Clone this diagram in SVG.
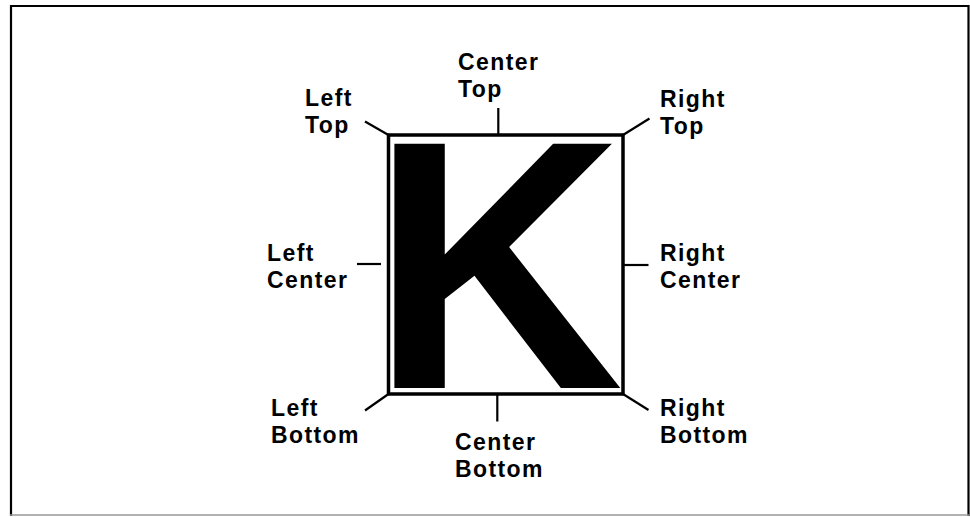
<svg xmlns="http://www.w3.org/2000/svg" width="970" height="517" viewBox="0 0 970 517">
<style>
.lbl{font-family:"Liberation Sans",Arial,sans-serif;font-weight:bold;font-size:23px;letter-spacing:1.4px;fill:#000}
.tick{stroke:#000;stroke-width:2.2;fill:none;stroke-linecap:butt}
.frame{stroke:#000;stroke-width:2.2;fill:none}
</style>
<rect width="970" height="517" fill="#fff"/>
<g id="frame">
<line class="frame" x1="10" y1="6" x2="969" y2="6"/>
<line class="frame" x1="11" y1="5" x2="11" y2="516"/>
<line class="frame" x1="968.5" y1="5" x2="968.5" y2="516"/>
<line x1="10" y1="515" x2="969" y2="515" stroke="#999" stroke-width="1.5"/>
</g>
<g id="box">
<rect x="388.5" y="135" width="234.5" height="259" fill="none" stroke="#000" stroke-width="3.5"/>
<text transform="translate(371 388) scale(0.985 1)" x="0" y="0" style="font-family:'Liberation Sans',Arial,sans-serif;font-weight:bold;font-size:355px" fill="#000">K</text>
</g>
<g id="connectors">
<line class="tick" x1="365" y1="121.5" x2="388.5" y2="135"/>
<line class="tick" x1="498.3" y1="108" x2="498.3" y2="135"/>
<line class="tick" x1="649.5" y1="118.5" x2="623" y2="135"/>
<line class="tick" x1="357" y1="264" x2="381" y2="264"/>
<line class="tick" x1="623" y1="265" x2="648.5" y2="265"/>
<line class="tick" x1="365" y1="410.5" x2="388.5" y2="394"/>
<line class="tick" x1="497.3" y1="394" x2="497.3" y2="421.5"/>
<line class="tick" x1="623" y1="394" x2="648.5" y2="410"/>
</g>
<g id="left-top"><text class="lbl" x="305" y="106"><tspan x="305" y="106">Left</tspan><tspan x="305" y="133">Top</tspan></text></g>
<g id="center-top"><text class="lbl" x="458" y="70"><tspan x="458" y="70">Center</tspan><tspan x="458" y="97">Top</tspan></text></g>
<g id="right-top"><text class="lbl" x="660" y="107"><tspan x="660" y="107">Right</tspan><tspan x="660" y="134">Top</tspan></text></g>
<g id="left-center"><text class="lbl" x="267" y="261"><tspan x="267" y="261">Left</tspan><tspan x="267" y="288">Center</tspan></text></g>
<g id="right-center"><text class="lbl" x="660" y="261"><tspan x="660" y="261">Right</tspan><tspan x="660" y="288">Center</tspan></text></g>
<g id="left-bottom"><text class="lbl" x="271" y="416"><tspan x="271" y="416">Left</tspan><tspan x="271" y="443">Bottom</tspan></text></g>
<g id="center-bottom"><text class="lbl" x="455" y="450"><tspan x="455" y="450">Center</tspan><tspan x="455" y="477">Bottom</tspan></text></g>
<g id="right-bottom"><text class="lbl" x="660" y="416"><tspan x="660" y="416">Right</tspan><tspan x="660" y="443">Bottom</tspan></text></g>
</svg>
